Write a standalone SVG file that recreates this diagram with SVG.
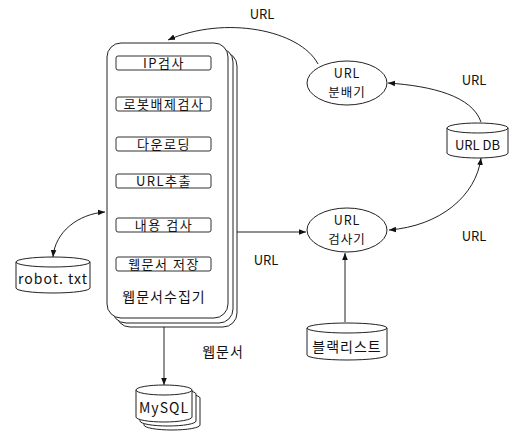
<svg xmlns="http://www.w3.org/2000/svg" width="512" height="432" viewBox="0 0 512 432">
  <style>
    .shape { fill: #fff; stroke: #222; stroke-width: 1; }
    .step { fill: #fff; stroke: #333; stroke-width: 1; }
    .edge { fill: none; stroke: #222; stroke-width: 1; }
    text { font-family: "Noto Sans CJK KR", "Noto Sans", "Liberation Sans", sans-serif; fill: #111; text-anchor: middle; }
    .t13 { font-size: 13px; }
    .t14 { font-size: 14px; letter-spacing: 1px; }
    .tn { font-size: 13px; letter-spacing: 1.5px; }
    .te { font-size: 12.5px; letter-spacing: 1px; }
  </style>
  <defs>
    <marker id="arrow" viewBox="0 0 10 10" refX="10" refY="5" markerWidth="7" markerHeight="7" markerUnits="userSpaceOnUse" orient="auto-start-reverse">
      <path d="M0,1 L10,5 L0,9 Z" fill="#111"/>
    </marker>
  </defs>
  <rect width="512" height="432" fill="#fff"/>

  <!-- connectors -->
  <g id="connectors">
    <path class="edge" d="M318,64 C300,30 225,15 168,40" marker-end="url(#arrow)"/>
    <path class="edge" d="M481,122 C472,96 432,86 388,83" marker-end="url(#arrow)"/>
    <path class="edge" d="M389,230 C440,226 476,196 481,158" marker-start="url(#arrow)" marker-end="url(#arrow)"/>
    <path class="edge" d="M237,232 L306,232" marker-end="url(#arrow)"/>
    <path class="edge" d="M345,322 L345,253" marker-end="url(#arrow)"/>
    <path class="edge" d="M164,327 L164,385" marker-end="url(#arrow)"/>
    <path class="edge" d="M53,257 C55,232 78,214 105,212" marker-start="url(#arrow)" marker-end="url(#arrow)"/>
  </g>

  <!-- edge labels -->
  <g id="labels">
    <text class="t13" x="262" y="19">URL</text>
    <text class="t13" x="474" y="85">URL</text>
    <text class="t13" x="266" y="265">URL</text>
    <text class="t13" x="474" y="241">URL</text>
    <text class="t14" x="223" y="357">웹문서</text>
  </g>

  <!-- web document collector (stacked) -->
  <g id="collector">
    <rect class="shape" x="116" y="52" width="121" height="275" rx="14"/>
    <rect class="shape" x="112" y="48" width="121" height="275" rx="14"/>
    <rect class="shape" x="107" y="43" width="121" height="275" rx="14"/>
    <g id="step-ip">
      <rect class="step" x="116" y="56" width="95" height="14" rx="2"/>
      <text class="tn" x="164" y="67.5">IP검사</text>
    </g>
    <g id="step-robot">
      <rect class="step" x="116" y="97" width="95" height="14" rx="2"/>
      <text class="tn" x="164" y="108.5">로봇배제검사</text>
    </g>
    <g id="step-download">
      <rect class="step" x="116" y="137" width="95" height="14" rx="2"/>
      <text class="tn" x="164" y="148.5">다운로딩</text>
    </g>
    <g id="step-extract">
      <rect class="step" x="116" y="174" width="95" height="14" rx="2"/>
      <text class="tn" x="164" y="185.5">URL추출</text>
    </g>
    <g id="step-content">
      <rect class="step" x="116" y="218" width="95" height="14" rx="2"/>
      <text class="tn" x="164" y="229.5">내용 검사</text>
    </g>
    <g id="step-store">
      <rect class="step" x="116" y="257" width="95" height="14" rx="2"/>
      <text class="tn" x="164" y="268.5">웹문서 저장</text>
    </g>
    <text class="t14" x="164" y="302">웹문서수집기</text>
  </g>

  <!-- URL distributor -->
  <g id="distributor">
    <ellipse class="shape" cx="347" cy="83" rx="40" ry="22"/>
    <text class="te" x="347" y="78">URL</text>
    <text class="te" x="347" y="97">분배기</text>
  </g>

  <!-- URL checker -->
  <g id="checker">
    <ellipse class="shape" cx="347" cy="230" rx="40" ry="22"/>
    <text class="te" x="347" y="225">URL</text>
    <text class="te" x="347" y="244">검사기</text>
  </g>

  <!-- URL DB -->
  <g id="urldb">
    <path class="shape" d="M447,128 A30.5,5 0 0 1 508,128 L508,153 A30.5,5 0 0 1 447,153 Z"/>
    <path class="edge" d="M447,128 A30.5,5 0 0 0 508,128"/>
    <text class="t13" x="477.5" y="150">URL DB</text>
  </g>

  <!-- blacklist -->
  <g id="blacklist">
    <path class="shape" d="M307,328 A40,5 0 0 1 387,328 L387,355 A40,5 0 0 1 307,355 Z"/>
    <path class="edge" d="M307,328 A40,5 0 0 0 387,328"/>
    <text class="t14" x="347" y="352">블랙리스트</text>
  </g>

  <!-- robot.txt -->
  <g id="robot">
    <path class="shape" d="M16,262 A37,5 0 0 1 90,262 L90,288 A37,5 0 0 1 16,288 Z"/>
    <path class="edge" d="M16,262 A37,5 0 0 0 90,262"/>
    <text class="t14" x="53" y="284">robot. txt</text>
  </g>

  <!-- MySQL (stacked) -->
  <g id="mysql">
    <path class="shape" d="M144,398 A28,5 0 0 1 200,398 L200,425 A28,5 0 0 1 144,425 Z"/>
    <path class="shape" d="M140,394 A28,5 0 0 1 196,394 L196,421 A28,5 0 0 1 140,421 Z"/>
    <path class="shape" d="M136,390 A28,5 0 0 1 192,390 L192,417 A28,5 0 0 1 136,417 Z"/>
    <path class="edge" d="M136,390 A28,5 0 0 0 192,390"/>
    <text class="t14" x="164" y="413">MySQL</text>
  </g>
</svg>
